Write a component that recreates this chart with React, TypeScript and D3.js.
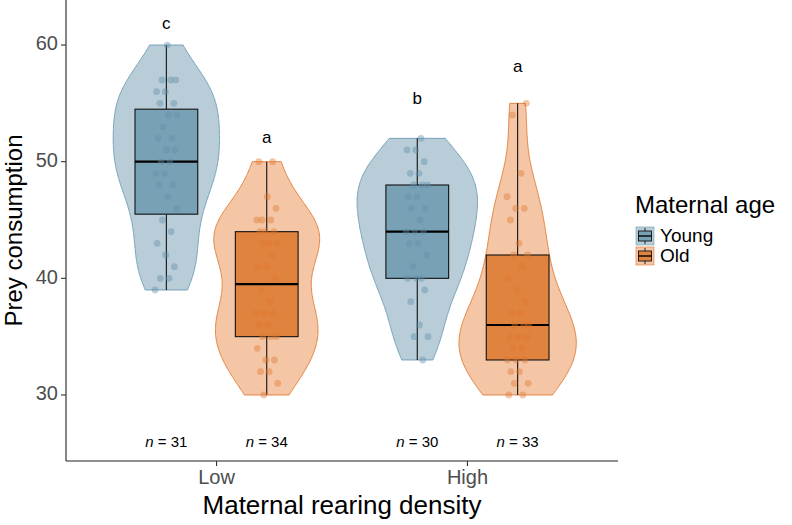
import * as d3 from "d3";

// rearing density on the x axis, maternal age as the dodged groups
const categories = ["Low", "High"];
const ages = ["Young", "Old"];

// prey consumed per offspring, one array per density x age group
const lowYoung = [39, 40, 40, 41, 42, 43, 44, 45, 46, 47, 48, 48, 49, 49, 50, 50, 51, 51, 52, 52, 53, 54, 54, 55, 55, 56, 56, 57, 57, 57, 60];
const lowOld = [30, 31, 32, 32, 33, 33, 34, 35, 35, 35, 36, 36, 37, 37, 37, 38, 39, 40, 41, 41, 42, 43, 43, 43, 44, 44, 44, 45, 45, 45, 46, 47, 50, 50];
const highYoung = [33, 35, 35, 36, 38, 39, 40, 40, 40, 41, 42, 43, 43, 44, 44, 44, 45, 46, 46, 47, 47, 48, 48, 48, 49, 49, 50, 51, 51, 52];
const highOld = [30, 30, 31, 31, 32, 32, 33, 33, 33, 34, 34, 35, 35, 35, 36, 36, 36, 37, 37, 38, 39, 40, 41, 42, 42, 43, 45, 46, 46, 47, 49, 54, 55];

// significance letters and the height they sit at
const letters = ["c", "a", "b", "a"];
const letterY = [61.8, 52, 55.3, 58.1];
const nLabelY = 25.9;

const yTicks = [30, 40, 50, 60];

const W = 792;
const H = 525;
const panel = { left: 66, right: 618, top: 0, bottom: 461 };
const font = "'Liberation Sans', Arial, Helvetica, sans-serif";

const palette: Record<string, { violin: string; box: string; edge: string; point: string }> = {
  Young: { violin: "#b8cdd8", box: "#79a1b5", edge: "#6c9bb3", point: "#5f90aa" },
  Old: { violin: "#f4c6a5", box: "#e0833e", edge: "#e07b36", point: "#e0782f" },
};

const groups = [
  { cat: "Low", age: "Young", values: lowYoung },
  { cat: "Low", age: "Old", values: lowOld },
  { cat: "High", age: "Young", values: highYoung },
  { cat: "High", age: "Old", values: highOld },
];

// R's bw.nrd0
function nrd0(vals: number[]) {
  const s = vals.slice().sort(d3.ascending);
  const sd = d3.deviation(s) as number;
  const iqr = (d3.quantile(s, 0.75) as number) - (d3.quantile(s, 0.25) as number);
  const lo = Math.min(sd, iqr / 1.34);
  return 0.9 * lo * Math.pow(s.length, -0.2);
}

function kde(vals: number[], bw: number, at: number) {
  let sum = 0;
  for (const v of vals) {
    const z = (at - v) / bw;
    sum += Math.exp(-0.5 * z * z);
  }
  return sum / (vals.length * bw * Math.sqrt(2 * Math.PI));
}

function boxStats(vals: number[]) {
  const s = vals.slice().sort(d3.ascending);
  const q1 = d3.quantile(s, 0.25) as number;
  const med = d3.quantile(s, 0.5) as number;
  const q3 = d3.quantile(s, 0.75) as number;
  const iqr = q3 - q1;
  const lo = d3.min(s.filter((v) => v >= q1 - 1.5 * iqr)) as number;
  const hi = d3.max(s.filter((v) => v <= q3 + 1.5 * iqr)) as number;
  return { q1, med, q3, lo, hi };
}

export default function App() {
  const x = d3.scalePoint().domain(categories).range([panel.left, panel.right]).padding(0.6);
  const y = d3.scaleLinear().domain([24.34, 63.86]).range([panel.bottom, panel.top]);
  const step = x.step();
  const dodge = (age: string) => (age === "Young" ? -0.2 : 0.2) * step;
  const boxHalf = 0.125 * step;
  const violinHalf = 0.24 * step;
  const jitter = 0.045 * step;

  // trimmed densities, scaled by area (one max over all groups)
  const dens = groups.map((g) => {
    const bw = nrd0(g.values);
    const lo = d3.min(g.values) as number;
    const hi = d3.max(g.values) as number;
    return d3.range(0, 201).map((i) => {
      const v = lo + ((hi - lo) * i) / 200;
      return { v, d: kde(g.values, bw, v) };
    });
  });
  const maxD = d3.max(dens.flat(), (p) => p.d) as number;

  return (
    <svg width={W} height={H} style={{ position: "absolute", left: 0, top: 0, background: "#fff" }} fontFamily={font}>
      {groups.map((g, gi) => {
        const cx = (x(g.cat) as number) + dodge(g.age);
        const col = palette[g.age];
        const st = boxStats(g.values);
        const area = d3
          .area<{ v: number; d: number }>()
          .y((p) => y(p.v))
          .x0((p) => cx - (p.d / maxD) * violinHalf)
          .x1((p) => cx + (p.d / maxD) * violinHalf);
        return (
          <g key={gi}>
            <path d={area(dens[gi]) + "Z"} fill={col.violin} stroke={col.edge} strokeWidth={0.9} />
            <line x1={cx} x2={cx} y1={y(st.hi)} y2={y(st.q3)} stroke="#111" strokeWidth={1.1} />
            <line x1={cx} x2={cx} y1={y(st.q1)} y2={y(st.lo)} stroke="#111" strokeWidth={1.1} />
            <rect
              x={cx - boxHalf}
              y={y(st.q3)}
              width={boxHalf * 2}
              height={y(st.q1) - y(st.q3)}
              fill={col.box}
              stroke="#111"
              strokeWidth={1.1}
            />
            <line x1={cx - boxHalf} x2={cx + boxHalf} y1={y(st.med)} y2={y(st.med)} stroke="#000" strokeWidth={2.2} />
            {g.values.map((v, i) => {
              const f = ((i * 0.618034 + gi * 0.37) % 1) - 0.5;
              return <circle key={i} cx={cx + f * 2 * jitter} cy={y(v)} r={3.4} fill={col.point} fillOpacity={0.42} />;
            })}
            <text x={cx} y={y(letterY[gi])} textAnchor="middle" dominantBaseline="middle" fontSize={17} fill="#000">
              {letters[gi]}
            </text>
            <text x={cx} y={y(nLabelY)} textAnchor="middle" dominantBaseline="middle" fontSize={15} fill="#000">
              <tspan fontStyle="italic">n</tspan>
              {" = " + g.values.length}
            </text>
          </g>
        );
      })}

      {/* axes */}
      <line x1={panel.left} x2={panel.left} y1={panel.top} y2={panel.bottom} stroke="#222" strokeWidth={1.1} />
      <line x1={panel.left} x2={panel.right} y1={panel.bottom} y2={panel.bottom} stroke="#222" strokeWidth={1.1} />
      {yTicks.map((t) => (
        <g key={t}>
          <line x1={panel.left - 5} x2={panel.left} y1={y(t)} y2={y(t)} stroke="#333" strokeWidth={1.1} />
          <text x={panel.left - 8} y={y(t)} textAnchor="end" dominantBaseline="middle" fontSize={20} fill="#4d4d4d">
            {t}
          </text>
        </g>
      ))}
      {categories.map((c) => (
        <g key={c}>
          <line x1={x(c)} x2={x(c)} y1={panel.bottom} y2={panel.bottom + 5} stroke="#333" strokeWidth={1.1} />
          <text x={x(c)} y={panel.bottom + 18} textAnchor="middle" dominantBaseline="middle" fontSize={20} fill="#4d4d4d">
            {c}
          </text>
        </g>
      ))}
      <text
        x={(panel.left + panel.right) / 2}
        y={507}
        textAnchor="middle"
        dominantBaseline="middle"
        fontSize={26}
        fill="#000"
      >
        Maternal rearing density
      </text>
      <text
        transform={`translate(16,${(panel.top + panel.bottom) / 2}) rotate(-90)`}
        textAnchor="middle"
        dominantBaseline="middle"
        fontSize={24}
        fill="#000"
      >
        Prey consumption
      </text>

      {/* legend */}
      <text x={635} y={207} dominantBaseline="middle" fontSize={24} fill="#000">
        Maternal age
      </text>
      {ages.map((a, i) => {
        const col = palette[a];
        const ky = 227 + i * 20;
        return (
          <g key={a}>
            <rect x={636} y={ky} width={18} height={18} fill={col.violin} stroke={col.edge} strokeWidth={0.6} />
            <line x1={645} x2={645} y1={ky + 1} y2={ky + 17} stroke="#111" strokeWidth={0.9} />
            <rect x={638.5} y={ky + 4} width={13} height={10} fill={col.box} stroke="#111" strokeWidth={0.9} />
            <line x1={638.5} x2={651.5} y1={ky + 9} y2={ky + 9} stroke="#000" strokeWidth={1.4} />
            <text x={660} y={ky + 10} dominantBaseline="middle" fontSize={19} fill="#000">
              {a}
            </text>
          </g>
        );
      })}
    </svg>
  );
}
